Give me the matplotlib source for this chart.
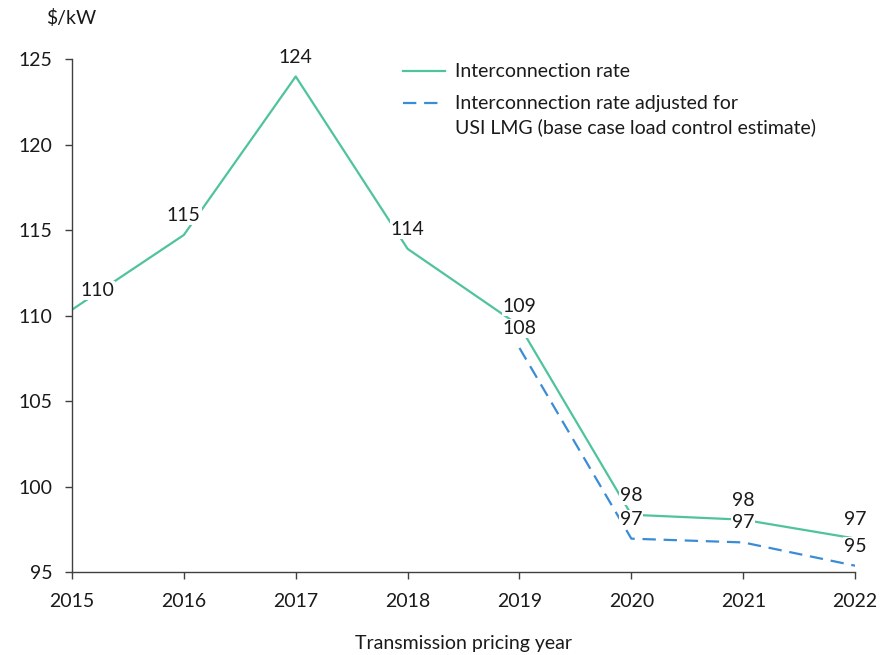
import matplotlib
matplotlib.use("Agg")
import matplotlib.pyplot as plt
from matplotlib.lines import Line2D

plt.rcParams['font.family'] = ['Lato', 'DejaVu Sans']

years = [2015, 2016, 2017, 2018, 2019, 2020, 2021, 2022]
interconnection_rate = [110.34, 114.71, 123.98, 113.9, 109.4, 98.35, 98.06, 96.96]
adjusted_years = [2019, 2020, 2021, 2022]
adjusted_rate = [108.1, 96.95, 96.73, 95.37]

y_ticks = [95, 100, 105, 110, 115, 120, 125]
series_names = ['Interconnection rate',
                'Interconnection rate adjusted for',
                'USI LMG (base case load control estimate)']

green = '#4FC49B'
blue = '#3A8CD6'
ink = '#1a1a1a'
fs = 14
lw = 1.6
dash = (6, 3.5)

fig = plt.figure(figsize=(8.94, 6.55), dpi=100)
ax = fig.add_axes([0.0805, 0.1267, 0.876, 0.7832])

ax.plot(years, interconnection_rate, color=green, lw=lw, zorder=2)
ax.plot(adjusted_years, adjusted_rate, color=blue, lw=lw, dashes=dash, zorder=2)

box = dict(facecolor='white', edgecolor='none', pad=0.6)

def label(x, y, dx=0, dy=14):
    ax.annotate(f'{round(y)}', (x, y), xytext=(dx, dy), textcoords='offset points',
                ha='center', va='center', fontsize=fs, color=ink, bbox=box, zorder=3)

for i, (x, y) in enumerate(zip(years, interconnection_rate)):
    label(x, y, dx=18 if i == 0 else 0)
for x, y in zip(adjusted_years, adjusted_rate):
    label(x, y)

ax.set_xlim(2015, 2022)
ax.set_ylim(95, 125)
ax.set_xticks(years)
ax.set_yticks(y_ticks)
for s in ('top', 'right'):
    ax.spines[s].set_visible(False)
for s in ('left', 'bottom'):
    ax.spines[s].set_color('#404040')
    ax.spines[s].set_linewidth(1.0)
ax.tick_params(axis='both', direction='out', length=5, width=1.0, color='#404040',
               labelsize=fs, labelcolor=ink)
ax.tick_params(axis='x', pad=10)
ax.tick_params(axis='y', pad=9)

ax.set_xlabel('Transmission pricing year', fontsize=fs, color=ink, labelpad=18)
fig.text(0.052, 0.972, '$/kW', fontsize=fs, color=ink, ha='left', va='center')

# Key: swatch aligned with the first line of each entry
x0, x1, xt = 0.4508, 0.4978, 0.509
fig.add_artist(Line2D([x0, x1], [0.8916, 0.8916], color=green, lw=lw,
                      transform=fig.transFigure))
fig.add_artist(Line2D([x0, x1], [0.8427, 0.8427], color=blue, lw=lw,
                      dashes=dash, transform=fig.transFigure))
fig.text(xt, 0.8916, series_names[0], fontsize=fs, color=ink, va='center')
fig.text(xt, 0.8427, series_names[1], fontsize=fs, color=ink, va='center')
fig.text(xt, 0.8061, series_names[2], fontsize=fs, color=ink, va='center')

fig.savefig('out.png', dpi=100)
